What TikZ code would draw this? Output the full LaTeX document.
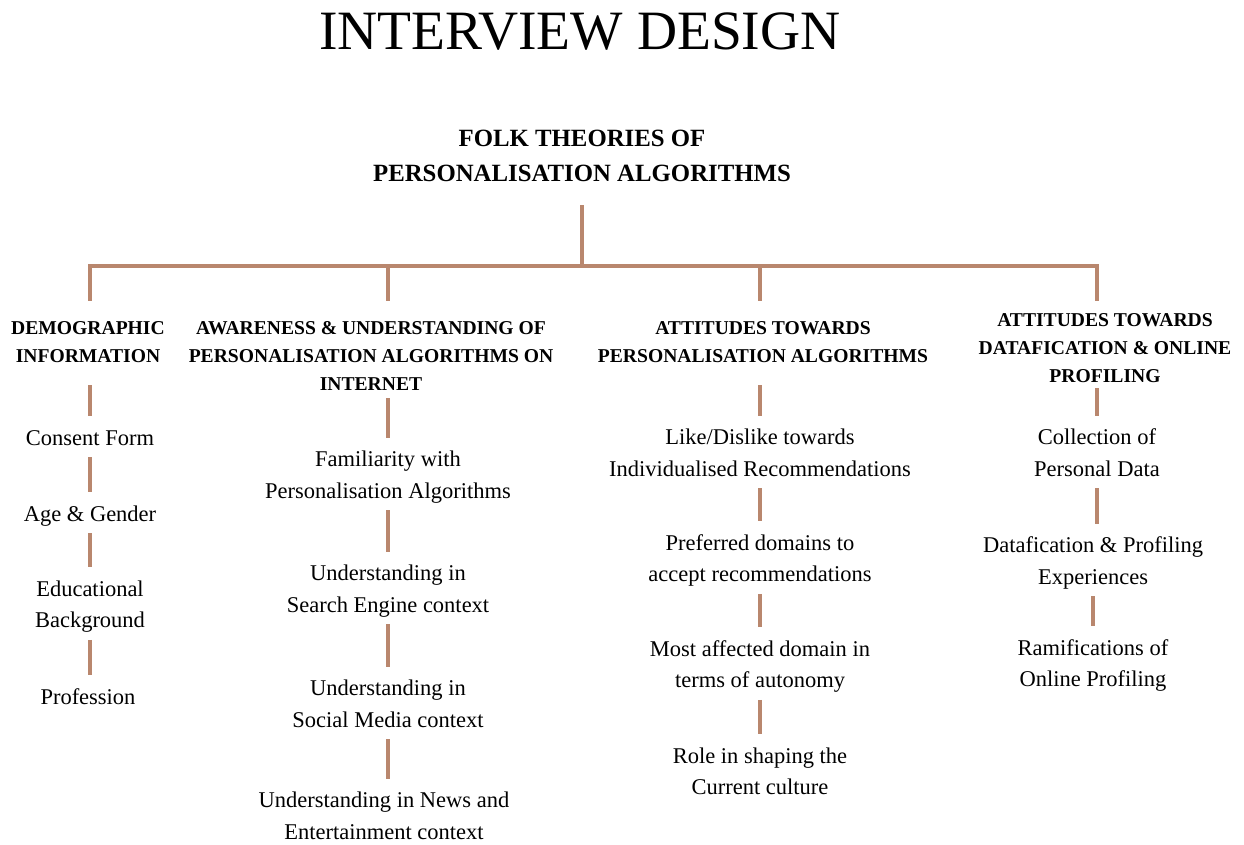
\documentclass[tikz,border=0pt]{standalone}
\usepackage{fontspec}
\setmainfont{Liberation Serif}
\definecolor{branch}{RGB}{185,135,110}
% fixed reach above the first and below the last baseline of an item
\newcommand{\itemtop}{\rule{0pt}{29pt}}
\newcommand{\itembottom}{\rule[-12pt]{0pt}{12pt}}
\begin{document}
\begin{tikzpicture}[x=1pt,y=-1pt,
  link/.style={draw=branch,line width=3.5pt},
  heading/.style={font=\bfseries\fontsize{19.6}{28}\selectfont,align=center,inner sep=0pt},
  item/.style={font=\fontsize{22.5}{31.5}\selectfont,align=center,inner sep=0pt},
]
\useasboundingbox (0,0) rectangle (1244,844);

% title and root
\node[font=\fontsize{55.5}{60}\selectfont,inner sep=0pt] (title) at (580,32) {INTERVIEW DESIGN};
\node[font=\bfseries\fontsize{24.8}{35}\selectfont,align=center,inner sep=0pt] (root) at (582,155.5)
  {FOLK THEORIES OF\\PERSONALISATION ALGORITHMS};

% branch points
\coordinate (top) at (582,205);
\coordinate (bar) at (582,266);
\coordinate (b1) at (90,266);
\coordinate (b2) at (388,266);
\coordinate (b3) at (760,266);
\coordinate (b4) at (1097,266);
\coordinate (e1) at (90,301);
\coordinate (e2) at (388,301);
\coordinate (e3) at (760,301);
\coordinate (e4) at (1097,301);

% category headings
\node[heading] (c1) at (88,342) {DEMOGRAPHIC\\INFORMATION};
\node[heading] (c2) at (371,356) {AWARENESS \& UNDERSTANDING OF\\PERSONALISATION ALGORITHMS ON\\INTERNET};
\node[heading] (c3) at (763,342) {ATTITUDES TOWARDS\\PERSONALISATION ALGORITHMS};
\node[heading] (c4) at (1105,348) {ATTITUDES TOWARDS\\DATAFICATION \& ONLINE\\PROFILING};

% where the first stroke under each heading starts
\coordinate (s1) at (90,385);
\coordinate (s2) at (388,398);
\coordinate (s3) at (760,385);
\coordinate (s4) at (1097,388);

% demographic items
\node[item] (d1) at (90,436.5) {\itemtop Consent Form\itembottom};
\node[item] (d2) at (90,512.5) {\itemtop Age \& Gender\itembottom};
\node[item] (d3) at (90,603.5) {\itemtop Educational\\Background\itembottom};
\node[item] (d4) at (88,695.5) {\itemtop Profession\itembottom};

% awareness items
\node[item] (a1) at (388,474) {\itemtop Familiarity with\\Personalisation Algorithms\itembottom};
\node[item] (a2) at (388,588) {\itemtop Understanding in\\Search Engine context\itembottom};
\node[item] (a3) at (388,703) {\itemtop Understanding in\\Social Media context\itembottom};
\node[item] (a4) at (384,815) {\itemtop Understanding in News and\\Entertainment context\itembottom};

% attitudes towards algorithms items
\node[item] (p1) at (760,452) {\itemtop Like/Dislike towards\\Individualised Recommendations\itembottom};
\node[item] (p2) at (760,557.5) {\itemtop Preferred domains to\\accept recommendations\itembottom};
\node[item] (p3) at (760,663.5) {\itemtop Most affected domain in\\terms of autonomy\itembottom};
\node[item] (p4) at (760,770.5) {\itemtop Role in shaping the\\Current culture\itembottom};

% datafication items
\node[item] (f1) at (1097,452) {\itemtop Collection of\\Personal Data\itembottom};
\node[item] (f2) at (1093,560) {\itemtop Datafication \& Profiling\\Experiences\itembottom};
\node[item] (f3) at (1093,662.5) {\itemtop Ramifications of\\Online Profiling\itembottom};

% tree connectors
\draw[link] (root.south |- top) -- (bar);
\draw[link] ([xshift=-1.75pt]b1) -- ([xshift=1.75pt]b4);
\foreach \i in {1,2,3,4} \draw[link] (b\i) -- (e\i);

% column connectors
\draw[link] (s1) -- (s1 |- d1.north);
\draw[link] (d1.south) -- (d1.south |- d2.north);
\draw[link] (d2.south) -- (d2.south |- d3.north);
\draw[link] (d3.south) -- (d3.south |- d4.north);

\draw[link] (s2) -- (s2 |- a1.north);
\draw[link] (a1.south) -- (a1.south |- a2.north);
\draw[link] (a2.south) -- (a2.south |- a3.north);
\draw[link] (a3.south) -- (a3.south |- a4.north);

\draw[link] (s3) -- (s3 |- p1.north);
\draw[link] (p1.south) -- (p1.south |- p2.north);
\draw[link] (p2.south) -- (p2.south |- p3.north);
\draw[link] (p3.south) -- (p3.south |- p4.north);

\draw[link] (s4) -- (s4 |- f1.north);
\draw[link] (f1.south) -- (f1.south |- f2.north);
\draw[link] (f2.south) -- (f2.south |- f3.north);
\end{tikzpicture}
\end{document}
